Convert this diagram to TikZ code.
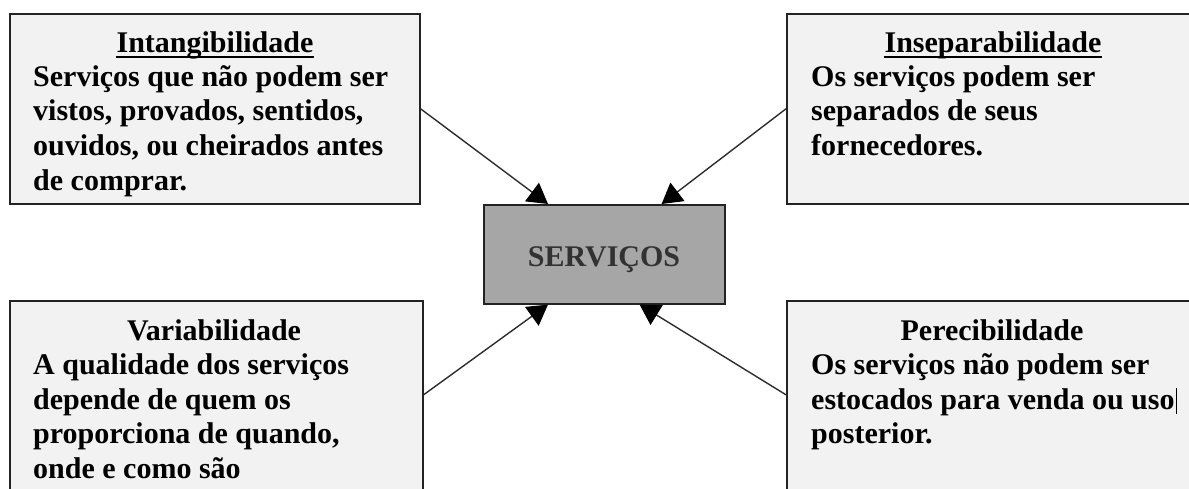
\documentclass[tikz,border=0pt]{standalone}
\usepackage{fontspec}
\setmainfont{Liberation Serif}
\usetikzlibrary{arrows.meta}
\definecolor{boxfill}{RGB}{242,242,242}
\definecolor{boxline}{RGB}{35,35,35}
\definecolor{centerfill}{RGB}{166,166,166}
\definecolor{centertext}{RGB}{50,50,50}
\definecolor{arrowcol}{RGB}{45,45,45}
\begin{document}
\begin{tikzpicture}[x=1pt,y=-1pt,
  panel/.style={draw=boxline, fill=boxfill, line width=1.6pt, inner sep=0pt, anchor=north west},
  txt/.style={inner sep=0pt, font=\fontsize{30}{34}\selectfont\bfseries, text=black},
  ttl/.style={txt, anchor=base},
  bdy/.style={txt, anchor=base west},
  uline/.style={line width=1.5pt, draw=black},
  link/.style={draw=arrowcol, line width=1.4pt, -{Triangle[length=20pt,width=23pt,color=black]}},
]
\useasboundingbox (0,0) rectangle (1189,489);
\clip (0,0) rectangle (1189,489);
\fill[white] (0,0) rectangle (1189,489);

% panels
\node[panel, minimum width=410pt, minimum height=190pt] (p1) at (9,13) {};
\node[panel, minimum width=414pt, minimum height=190pt] (p2) at (786,13) {};
\node[panel, minimum width=413pt, minimum height=195pt] (p3) at (9,300) {};
\node[panel, minimum width=414pt, minimum height=195pt] (p4) at (786,300) {};
\node[panel, fill=centerfill, minimum width=241pt, minimum height=99pt] (c) at (483,204) {};
\node[txt, anchor=base, text=centertext] (ct) at (604,266) {SERVIÇOS};

% panel 1
\node[ttl] (h1) at (215,52.5) {Intangibilidade};
\draw[uline] ([yshift=-4.5pt]h1.base west) -- ([yshift=-4.5pt]h1.base east);
\node[bdy] (a1) at (33,86.5) {Serviços que não podem ser};
\node[bdy] (a2) at (33,121) {vistos, provados, sentidos,};
\node[bdy] (a3) at (33,156) {ouvidos, ou cheirados antes};
\node[bdy] (a4) at (33,191) {de comprar.};

% panel 2
\node[ttl] (h2) at (993,52.5) {Inseparabilidade};
\draw[uline] ([yshift=-4.5pt]h2.base west) -- ([yshift=-4.5pt]h2.base east);
\node[bdy] (b1) at (811,86.5) {Os serviços podem ser};
\node[bdy] (b2) at (811,121) {separados de seus};
\node[bdy] (b3) at (811,156) {fornecedores.};

% panel 3
\node[ttl] (h3) at (214,340.5) {Variabilidade};
\node[bdy] (d1) at (33,374.5) {A qualidade dos serviços};
\node[bdy] (d2) at (33,409) {depende de quem os};
\node[bdy] (d3) at (33,443.5) {proporciona de quando,};
\node[bdy] (d4) at (33,478) {onde e como são};

% panel 4
\node[ttl] (h4) at (992,340.5) {Perecibilidade};
\node[bdy] (e1) at (811,374.5) {Os serviços não podem ser};
\node[bdy] (e2) at (811,409) {estocados para venda ou uso};
\node[bdy] (e3) at (811,443.5) {posterior.};
\draw[line width=1pt] ([xshift=2pt,yshift=-5pt]e2.base east) -- ([xshift=2pt,yshift=21pt]e2.base east);

% connectors
\draw[link] (p1.east) -- ([xshift=65pt]c.north west);
\draw[link] (p2.west) -- ([xshift=-64pt]c.north east);
\draw[link] ([yshift=3.5pt]p3.east) -- ([xshift=65pt]c.south west);
\draw[link] ([yshift=3.5pt]p4.west) -- ([xshift=-86pt]c.south east);
\end{tikzpicture}
\end{document}
